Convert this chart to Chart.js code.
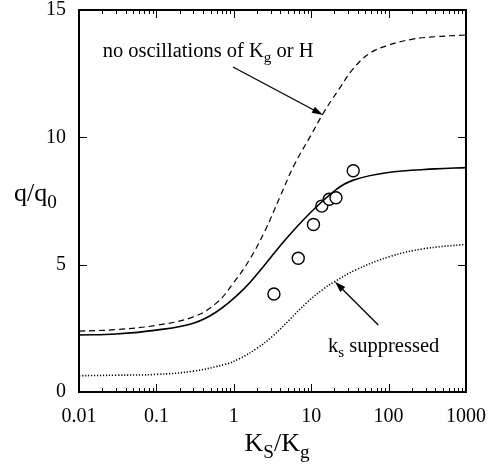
<!DOCTYPE html>
<html>
<head>
<meta charset="utf-8">
<script src="https://cdn.jsdelivr.net/npm/chart.js@4/dist/chart.umd.min.js"></script>
<style>
html,body{margin:0;padding:0;background:#fff;}
#wrap{width:492px;height:468px;}
</style>
</head>
<body>
<div id="wrap"><canvas id="c" width="492" height="468"></canvas></div>
<script>
// ---- data ----
const noOscK   = [0.01, 0.03, 0.1, 0.3, 0.6, 1.0, 1.6, 2.5, 4, 6, 10, 15, 23, 35, 57, 100, 200, 400, 1000];
const noOscQ   = [2.39, 2.45, 2.62, 2.95, 3.5, 4.3, 5.2, 6.3, 7.7, 8.9, 10.1, 11.05, 11.9, 12.7, 13.3, 13.62, 13.85, 13.95, 14.02];
const fullK    = [0.01, 0.03, 0.1, 0.3, 0.6, 1.3, 2.4, 4.6, 9.6, 21, 35, 94, 400, 1000];
const fullQ    = [2.24, 2.28, 2.43, 2.70, 3.15, 4.0, 4.92, 5.97, 7.02, 7.95, 8.32, 8.61, 8.76, 8.81];
const suppK    = [0.01, 0.03, 0.1, 0.3, 0.8, 1.2, 2.0, 3.2, 5.3, 8.7, 14.4, 20, 38, 104, 279, 1000];
const suppQ    = [0.64, 0.66, 0.69, 0.82, 1.10, 1.32, 1.72, 2.2, 2.85, 3.5, 4.05, 4.33, 4.8, 5.32, 5.62, 5.80];
const measK    = [3.3, 6.8, 10.7, 13.7, 17.1, 20.9, 34.9];
const measQ    = [3.85, 5.25, 6.58, 7.30, 7.57, 7.63, 8.69];
const xTicks   = [0.01, 0.1, 1, 10, 100, 1000];
const xTickLabels = ["0.01", "0.1", "1", "10", "100", "1000"];
const yTicks   = [0, 5, 10, 15];

const pts = (xs, ys) => xs.map((x, i) => ({x: x, y: ys[i]}));
const SERIF = "'Liberation Serif', 'Times New Roman', serif";

function drawRich(ctx, parts, x, y, size) {
  let cx = x;
  for (const p of parts) {
    const s = p.sub ? size * 0.74 : size;
    ctx.font = s + "px " + SERIF;
    ctx.fillText(p.t, cx, p.sub ? y + size * 0.26 : y);
    cx += ctx.measureText(p.t).width;
  }
  return cx;
}
function richWidth(ctx, parts, size) {
  let w = 0;
  for (const p of parts) {
    const s = p.sub ? size * 0.74 : size;
    ctx.font = s + "px " + SERIF;
    w += ctx.measureText(p.t).width;
  }
  return w;
}
function arrow(ctx, x1, y1, x2, y2) {
  const a = Math.atan2(y2 - y1, x2 - x1);
  const L = 11, W = 3.5;
  ctx.beginPath();
  ctx.moveTo(x1, y1);
  ctx.lineTo(x2 - L * 0.8 * Math.cos(a), y2 - L * 0.8 * Math.sin(a));
  ctx.stroke();
  ctx.beginPath();
  ctx.moveTo(x2, y2);
  ctx.lineTo(x2 - L * Math.cos(a) + W * Math.sin(a), y2 - L * Math.sin(a) - W * Math.cos(a));
  ctx.lineTo(x2 - L * Math.cos(a) - W * Math.sin(a), y2 - L * Math.sin(a) + W * Math.cos(a));
  ctx.closePath();
  ctx.fill();
}

const frame = {
  id: 'frame',
  afterDraw(chart) {
    const ctx = chart.ctx, xs = chart.scales.x, ys = chart.scales.y, a = chart.chartArea;
    ctx.save();
    ctx.strokeStyle = '#000'; ctx.fillStyle = '#000';
    ctx.setLineDash([]);
    ctx.lineWidth = 2;
    ctx.strokeRect(a.left, a.top, a.right - a.left, a.bottom - a.top);
    ctx.lineWidth = 1;
    for (let d = -2; d < 3; d++) {
      for (let m = 1; m < 10; m++) {
        const v = m * Math.pow(10, d);
        const px = Math.round(xs.getPixelForValue(v)) + 0.5;
        const len = m === 1 ? 8 : 4;
        ctx.beginPath();
        ctx.moveTo(px, a.bottom); ctx.lineTo(px, a.bottom - len);
        ctx.moveTo(px, a.top); ctx.lineTo(px, a.top + len);
        ctx.stroke();
      }
    }
    for (const v of yTicks) {
      const py = Math.round(ys.getPixelForValue(v)) + 0.5;
      ctx.beginPath();
      ctx.moveTo(a.left, py); ctx.lineTo(a.left + 8, py);
      ctx.moveTo(a.right, py); ctx.lineTo(a.right - 8, py);
      ctx.stroke();
    }
    ctx.textBaseline = 'alphabetic';
    ctx.textAlign = 'left';
    drawRich(ctx, [{t: 'no oscillations of K'}, {t: 'g', sub: true}, {t: ' or H'}],
      xs.getPixelForValue(0.0202), ys.getPixelForValue(13.16), 20.5);
    ctx.lineWidth = 1.3;
    arrow(ctx, xs.getPixelForValue(0.976), ys.getPixelForValue(12.76),
               xs.getPixelForValue(14.2), ys.getPixelForValue(10.88));
    drawRich(ctx, [{t: 'k'}, {t: 's', sub: true}, {t: ' suppressed'}],
      xs.getPixelForValue(16.5), ys.getPixelForValue(1.58), 20.5);
    arrow(ctx, xs.getPixelForValue(73.6), ys.getPixelForValue(2.63),
               xs.getPixelForValue(20.3), ys.getPixelForValue(4.33));
    drawRich(ctx, [{t: 'q/q'}, {t: '0', sub: true}], 14, 201, 26);
    const xt = [{t: 'K'}, {t: 'S', sub: true}, {t: '/K'}, {t: 'g', sub: true}];
    const w = richWidth(ctx, xt, 26);
    drawRich(ctx, xt, 277 - w / 2, 451, 26);
    ctx.restore();
  }
};

new Chart(document.getElementById('c'), {
  type: 'scatter',
  data: {
    datasets: [
      {data: pts(noOscK, noOscQ), showLine: true, borderColor: '#000', borderWidth: 1.2,
       borderDash: [6, 4], pointRadius: 0, tension: 0.4, fill: false},
      {data: pts(fullK, fullQ), showLine: true, borderColor: '#000', borderWidth: 1.6,
       pointRadius: 0, tension: 0.4, fill: false},
      {data: pts(suppK, suppQ), showLine: true, borderColor: '#000', borderWidth: 1.6,
       borderDash: [1.2, 1.8], pointRadius: 0, tension: 0.4, fill: false},
      {data: pts(measK, measQ), showLine: false, pointStyle: 'circle', pointRadius: 6,
       pointBorderColor: '#000', pointBackgroundColor: '#fff', pointBorderWidth: 1.4,
       borderColor: '#000', backgroundColor: '#fff'}
    ]
  },
  options: {
    responsive: false,
    animation: false,
    devicePixelRatio: 1,
    layout: {padding: {left: 0, top: 10, right: 26, bottom: 0}},
    plugins: {legend: {display: false}, tooltip: {enabled: false}},
    scales: {
      x: {
        type: 'logarithmic', min: 0.01, max: 1000,
        grid: {display: false}, border: {display: false},
        afterBuildTicks(s) { s.ticks = xTicks.map(v => ({value: v, major: true})); },
        afterFit(s) { s.height = 76; s.paddingLeft = 0; s.paddingRight = 0; },
        ticks: {
          color: '#000', padding: 5, maxRotation: 0, autoSkip: false,
          font: {family: SERIF, size: 20},
          callback(v) { const i = xTicks.indexOf(v); return i >= 0 ? xTickLabels[i] : ''; }
        }
      },
      y: {
        type: 'linear', min: 0, max: 15,
        grid: {display: false}, border: {display: false},
        afterBuildTicks(s) { s.ticks = yTicks.map(v => ({value: v})); },
        afterFit(s) { s.width = 79; s.paddingTop = 0; s.paddingBottom = 0; },
        ticks: {color: '#000', padding: 5, font: {family: SERIF, size: 20}}
      }
    }
  },
  plugins: [frame]
});
</script>
</body>
</html>
